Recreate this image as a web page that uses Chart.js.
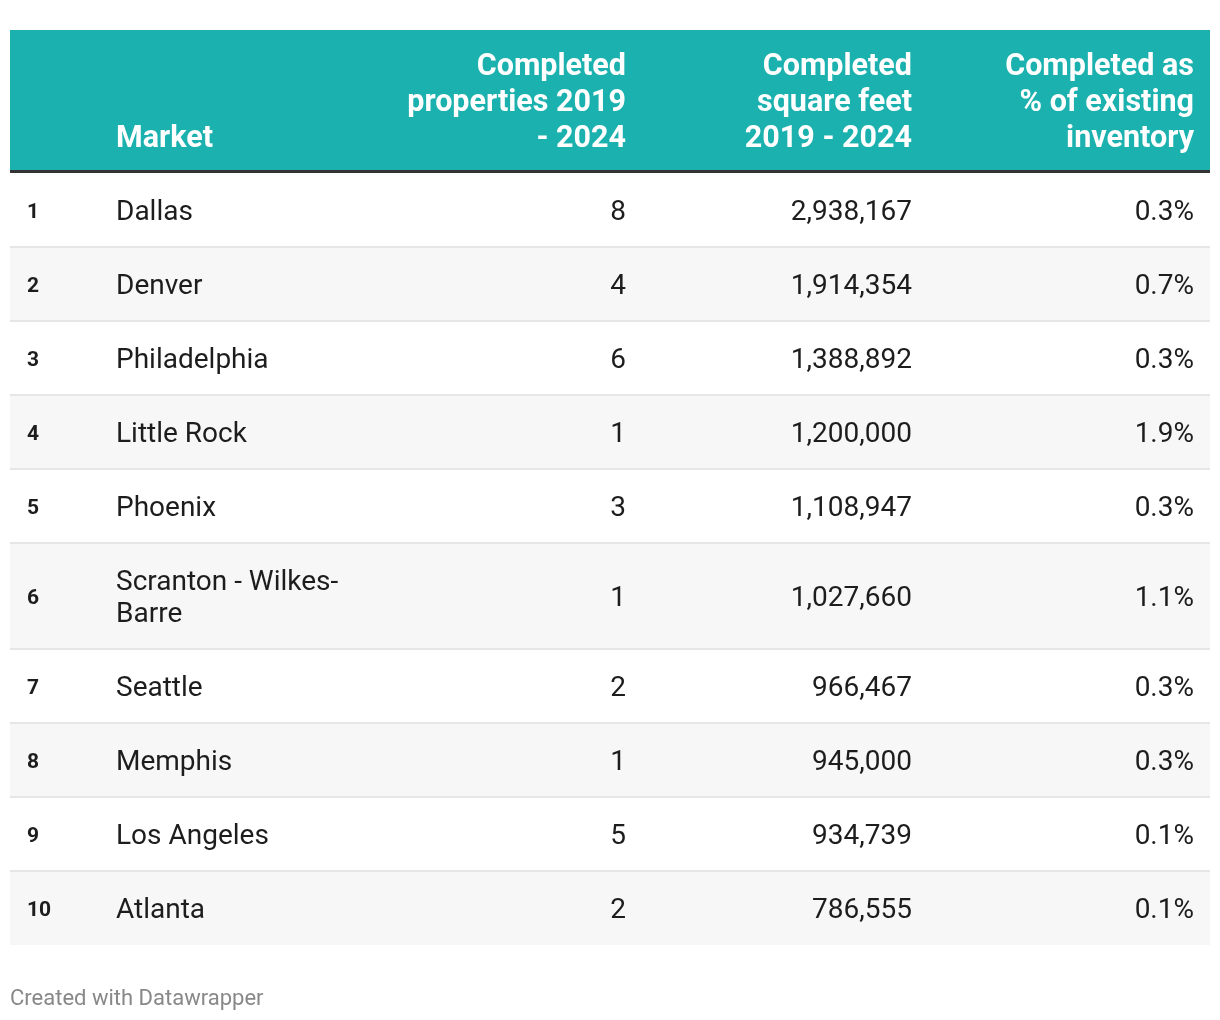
<!DOCTYPE html>
<html>
<head>
<meta charset="utf-8">
<script src="https://cdn.jsdelivr.net/npm/chart.js@4"></script>
<style>
  html, body { margin: 0; padding: 0; background: #fff; }
  #wrap { position: relative; width: 1220px; height: 1020px; }
</style>
</head>
<body>
<div id="wrap"><canvas id="tableChart"></canvas></div>
<script>
// Top 10 markets by completed square feet, 2019 - 2024

const ranks = [1, 2, 3, 4, 5, 6, 7, 8, 9, 10];
const markets = ['Dallas', 'Denver', 'Philadelphia', 'Little Rock', 'Phoenix',
    'Scranton - Wilkes-\nBarre', 'Seattle', 'Memphis', 'Los Angeles', 'Atlanta'];
const properties = [8, 4, 6, 1, 3, 1, 2, 1, 5, 2];
const squareFeet = [2938167, 1914354, 1388892, 1200000, 1108947, 1027660, 966467, 945000, 934739, 786555];
const pctInventory = [0.3, 0.7, 0.3, 1.9, 0.3, 1.1, 0.3, 0.3, 0.1, 0.1];

const headers = [
    [],
    ['Market'],
    ['Completed', 'properties 2019', '- 2024'],
    ['Completed', 'square feet', '2019 - 2024'],
    ['Completed as', '% of existing', 'inventory']
];

// Layout (x in table units, 0 = table left edge)
const columns = [
    { x: 17,   align: 'left' },
    { x: 106,  align: 'left' },
    { x: 616,  align: 'right' },
    { x: 902,  align: 'right' },
    { x: 1184, align: 'right' }
];
const TABLE_W = 1200;
const HEADER_H = 140;
const RULE_H = 3;
const ROW_H = 74;
const LINE_H = 32;

const TEAL = '#1bb1ae';
const FONT = 'Roboto, "Noto Sans", sans-serif';

// Row boundaries on the y scale, from line counts
const rowLines = markets.map(m => m.split('\n').length);
const rowStarts = [];
let acc = HEADER_H + RULE_H;
rowLines.forEach(n => {
    rowStarts.push(acc);
    acc += ROW_H + (n - 1) * LINE_H;
});
const TABLE_H = acc;

function cellText(col, i) {
    if (col === 0) return String(ranks[i]);
    if (col === 1) return markets[i];
    if (col === 2) return String(properties[i]);
    if (col === 3) return squareFeet[i].toLocaleString('en-US');
    return pctInventory[i].toFixed(1) + '%';
}

const tablePlugin = {
    id: 'tablePlugin',
    afterDraw(chart) {
        const ctx = chart.ctx;
        const xs = chart.scales.x;
        const ys = chart.scales.y;
        const x0 = xs.getPixelForValue(0);
        const x1 = xs.getPixelForValue(TABLE_W);
        const px = v => xs.getPixelForValue(v);
        const py = v => ys.getPixelForValue(v);

        ctx.save();

        // header band
        ctx.fillStyle = TEAL;
        ctx.fillRect(x0, py(0), x1 - x0, py(HEADER_H) - py(0));
        ctx.fillStyle = '#333333';
        ctx.fillRect(x0, py(HEADER_H), x1 - x0, py(HEADER_H + RULE_H) - py(HEADER_H));

        // header titles, bottom aligned
        ctx.fillStyle = '#ffffff';
        ctx.font = 'bold 30.5px ' + FONT;
        ctx.textBaseline = 'alphabetic';
        headers.forEach((lines, c) => {
            ctx.textAlign = columns[c].align;
            const n = lines.length;
            lines.forEach((line, k) => {
                const base = py(HEADER_H) - 23 - (n - 1 - k) * 36;
                ctx.fillText(line, px(columns[c].x), base);
            });
        });

        // rows
        ranks.forEach((r, i) => {
            const top = py(rowStarts[i]);
            const bottom = py(i + 1 < ranks.length ? rowStarts[i + 1] : TABLE_H);
            if (i % 2 === 1) {
                ctx.fillStyle = '#f7f7f7';
                ctx.fillRect(x0, top, x1 - x0, bottom - top);
            }
            if (i > 0) {
                ctx.fillStyle = '#e6e6e6';
                ctx.fillRect(x0, top - 1, x1 - x0, 2);
            }
            const mid = (top + bottom) / 2;
            ctx.textBaseline = 'middle';
            columns.forEach((col, c) => {
                ctx.textAlign = col.align;
                ctx.fillStyle = '#1d1d1d';
                ctx.font = c === 0 ? 'bold 21px ' + FONT : '28px ' + FONT;
                const lines = cellText(c, i).split('\n');
                lines.forEach((line, k) => {
                    const y = mid + (k - (lines.length - 1) / 2) * LINE_H;
                    ctx.fillText(line, px(col.x), y + 3);
                });
            });
        });

        // credit line
        ctx.fillStyle = '#888888';
        ctx.font = '22px ' + FONT;
        ctx.textAlign = 'left';
        ctx.textBaseline = 'alphabetic';
        ctx.fillText('Created with Datawrapper', x0, py(TABLE_H) + 60);

        ctx.restore();
    }
};

new Chart(document.getElementById('tableChart'), {
    type: 'scatter',
    data: { datasets: [{ data: [], pointRadius: 0 }] },
    options: {
        responsive: true,
        maintainAspectRatio: false,
        animation: false,
        layout: { padding: { top: 30, left: 10, right: 10, bottom: 1020 - 30 - TABLE_H } },
        plugins: { legend: { display: false }, tooltip: { enabled: false } },
        scales: {
            x: { type: 'linear', min: 0, max: TABLE_W, display: false },
            y: { type: 'linear', min: 0, max: TABLE_H, reverse: true, display: false }
        }
    },
    plugins: [tablePlugin]
});
</script>
</body>
</html>
